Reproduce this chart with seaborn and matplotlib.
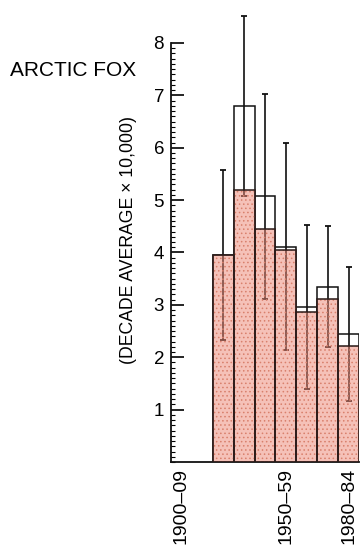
import matplotlib
matplotlib.use("Agg")
import matplotlib.pyplot as plt
from matplotlib.ticker import MultipleLocator
import seaborn as sns
import numpy as np

# data (decade average x 10,000)
decades = ["1900–09", "1910–19", "1920–29", "1930–39", "1940–49",
           "1950–59", "1960–69", "1970–79", "1980–84"]
shown_labels = ["1900–09", "", "", "", "", "1950–59", "", "", "1980–84"]
total = [np.nan, np.nan, 3.95, 6.79, 5.07, 4.11, 2.96, 3.35, 2.45]
harvest = [np.nan, np.nan, 3.95, 5.19, 4.44, 4.05, 2.87, 3.12, 2.21]
err = [np.nan, np.nan, 1.62, 1.72, 1.96, 1.98, 1.56, 1.15, 1.28]

sns.set_style("ticks")
plt.rcParams["font.family"] = ["Liberation Sans", "DejaVu Sans"]
plt.rcParams["hatch.linewidth"] = 0.6
for k in ("text.color", "axes.labelcolor", "xtick.color", "ytick.color"):
    plt.rcParams[k] = "black"

fig = plt.figure(figsize=(3.6, 5.46), dpi=100)
ax = fig.add_axes([171 / 360, 1 - 462 / 546, 188 / 360, 419 / 546])

# open bars = total
sns.barplot(x=decades, y=total, order=decades, color="white", width=1,
            errorbar=None, ax=ax, zorder=1)
for p in ax.containers[-1]:
    p.set_facecolor("white")
    p.set_edgecolor("#111111")
    p.set_linewidth(1.1)

# error bars around the totals
pos = np.arange(len(decades))
ax.errorbar(pos, total, yerr=err, fmt="none", ecolor="#111111",
            elinewidth=1.2, capsize=2.5, capthick=1.3, zorder=2, clip_on=False)

# shaded bars = harvested part
sns.barplot(x=decades, y=harvest, order=decades, color="#ee907a", width=1,
            errorbar=None, ax=ax, zorder=3)
for p in ax.containers[-1]:
    p.set_facecolor((0.93, 0.52, 0.45, 0.5))
    p.set_edgecolor("#d9806c")
    p.set_hatch("....")
    p.set_linewidth(0)

sns.barplot(x=decades, y=harvest, order=decades, color="white", width=1,
            errorbar=None, ax=ax, zorder=4)
for p in ax.containers[-1]:
    p.set_facecolor("none")
    p.set_edgecolor("#2a1a18")
    p.set_linewidth(1.1)

ax.set_ylim(0, 8)
ax.set_xlim(-0.5, len(decades) - 0.5)
ax.yaxis.set_minor_locator(MultipleLocator(0.1))
ax.set_yticks([1, 2, 3, 4, 5, 6, 7, 8])
ax.set_xticks(pos)
ax.set_xticklabels(shown_labels, rotation=90, fontsize=14)
ax.tick_params(axis="y", which="major", direction="in", length=9, width=1.2,
               labelsize=13.5, pad=5)
ax.tick_params(axis="y", which="minor", direction="in", length=3, width=0.8)
ax.tick_params(axis="x", length=0, pad=4)

sns.despine(ax=ax, top=True, right=True)
for s in ("left", "bottom"):
    ax.spines[s].set_linewidth(1.3)
    ax.spines[s].set_color("#111111")

ax.set_xlabel("")
ax.set_ylabel("(DECADE AVERAGE × 10,000)", fontsize=12.7)
ax.yaxis.set_label_coords(-0.18, 0.53)

fig.text(10 / 360, 1 - 76 / 546, "ARCTIC FOX", fontsize=15,
         ha="left", va="baseline")

fig.savefig("out.png", dpi=100)
